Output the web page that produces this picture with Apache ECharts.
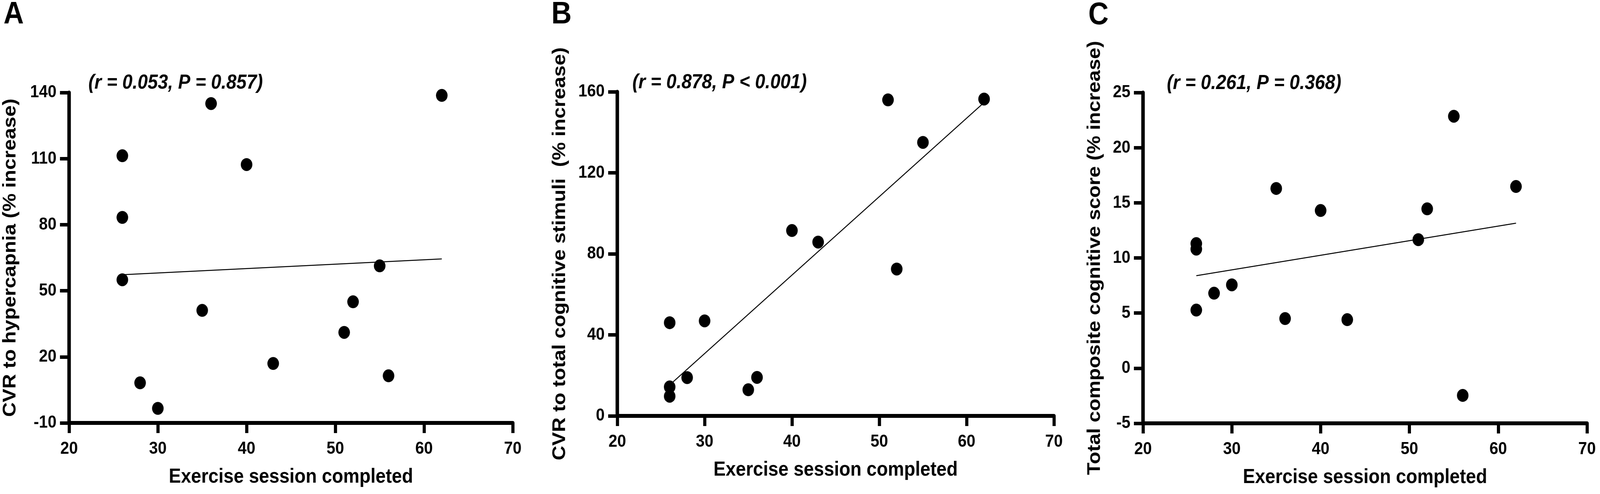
<!DOCTYPE html>
<html>
<head>
<meta charset="utf-8">
<script src="https://cdn.jsdelivr.net/npm/echarts@6/dist/echarts.min.js"></script>
<style>
  html, body { margin: 0; padding: 0; background: #fff; overflow: hidden; }
  #chart { width: 4562px; height: 1265px; transform-origin: 0 0; }
</style>
</head>
<body>
<div id="chart"></div>
<script>
/** 数据：运动次数 vs 三个指标 */
const xTicks = [20, 30, 40, 50, 60, 70]

const sessA = [26, 26, 26, 28, 30, 36, 35, 40, 43, 51, 52, 55, 56, 62]
const cvrHyper = [111.3, 83.3, 55, 8.2, -3.4, 135, 41.1, 107.3, 17, 31.1, 45, 61.3, 11.4, 138.7]
const yTicksA = [-10, 20, 50, 80, 110, 140]

const sessB = [26, 26, 26, 28, 30, 35, 36, 40, 43, 51, 52, 55, 62]
const cvrCog = [46, 14.3, 9.7, 18.9, 46.9, 12.9, 19, 91.5, 85.8, 156, 72.5, 135, 156.4]
const yTicksB = [0, 40, 80, 120, 160]

const sessC = [26, 26, 26, 28, 30, 36, 35, 40, 43, 51, 52, 55, 56, 62]
const cogScore = [11.3, 10.8, 5.27, 6.8, 7.56, 4.5, 16.3, 14.3, 4.4, 11.66, 14.45, 22.85, -2.47, 16.48]
const yTicksC = [-5, 0, 5, 10, 15, 20, 25]

const panelLetters = ["A", "B", "C"]
const statTexts = ["(r = 0.053, P = 0.857)", "(r = 0.878, P < 0.001)", "(r = 0.261, P = 0.368)"]
const xTitle = "Exercise session completed"
const yTitles = [
    "CVR to hypercapnia (% increase)",
    "CVR to total cognitive stimuli  (% increase)",
    "Total composite cognitive score (% increase)"
]

const FONT = "'Liberation Sans', Arial, sans-serif"
const PAGE_W = 4562, PAGE_H = 1265

/** 最小二乘回归线，从最小 x 画到最大 x */
function fitLine(xs, ys) {
    let n = xs.length
    let mx = xs.reduce((a, b) => a + b, 0) / n
    let my = ys.reduce((a, b) => a + b, 0) / n
    let sxy = 0, sxx = 0
    for (let i = 0; i < n; i++) {
        sxy += (xs[i] - mx) * (ys[i] - my)
        sxx += (xs[i] - mx) * (xs[i] - mx)
    }
    let k = sxy / sxx
    let x0 = Math.min(...xs), x1 = Math.max(...xs)
    return [[x0, my + k * (x0 - mx)], [x1, my + k * (x1 - mx)]]
}

function getXAxis(idx) {
    return {
        gridIndex: idx,
        type: "value",
        min: xTicks[0],
        max: xTicks[xTicks.length - 1],
        interval: xTicks[1] - xTicks[0],
        name: xTitle,
        nameLocation: "middle",
        nameGap: 113,
        nameTextStyle: { fontFamily: FONT, fontWeight: "bold", fontSize: 52, color: "#000" },
        axisLine: { onZero: false, lineStyle: { color: "#000", width: 10 } },
        axisTick: { length: 26, lineStyle: { color: "#000", width: 9 } },
        axisLabel: { fontFamily: FONT, fontWeight: "bold", fontSize: 45, color: "#000", margin: 44 },
        splitLine: { show: false }
    }
}

function getYAxis(idx, ticks, gap) {
    return {
        gridIndex: idx,
        type: "value",
        min: ticks[0],
        max: ticks[ticks.length - 1],
        interval: ticks[1] - ticks[0],
        name: yTitles[idx],
        nameLocation: "middle",
        nameGap: gap,
        nameTextStyle: { fontFamily: FONT, fontWeight: "bold", fontSize: 52, color: "#000" },
        axisLine: { show: true, onZero: false, lineStyle: { color: "#000", width: 10 } },
        axisTick: { show: true, length: 26, lineStyle: { color: "#000", width: 9 } },
        axisLabel: { fontFamily: FONT, fontWeight: "bold", fontSize: 45, color: "#000", margin: 36 },
        splitLine: { show: false }
    }
}

function scatterSeries(idx, xs, ys) {
    return {
        type: "scatter",
        xAxisIndex: idx,
        yAxisIndex: idx,
        data: xs.map((x, i) => [x, ys[i]]),
        symbol: "circle",
        symbolSize: 33,
        itemStyle: { color: "#000", opacity: 1 },
        clip: false,
        z: 3
    }
}

function lineSeries(idx, xs, ys) {
    return {
        type: "line",
        xAxisIndex: idx,
        yAxisIndex: idx,
        data: fitLine(xs, ys),
        showSymbol: false,
        symbol: "none",
        lineStyle: { color: "#000", width: 2.5 },
        z: 2
    }
}

// 浏览器窗口可能比 4562 窄，整体按窗口缩放
let el = document.getElementById("chart")
let sx = window.innerWidth / PAGE_W
let sy = window.innerHeight / PAGE_H
if (Math.abs(sx - 1) > 0.001 || Math.abs(sy - 1) > 0.001) {
    el.style.transform = "scale(" + sx + "," + sy + ")"
}

let chart = echarts.init(el)

let letterPos = [[10, 38], [1572, 38], [3103, 40]]
let statPos = [[252, 215], [1803, 214], [3327, 216]]

let graphics = []
for (let i = 0; i < 3; i++) {
    graphics.push({
        type: "text",
        left: letterPos[i][0],
        top: letterPos[i][1] - 40,
        style: { text: panelLetters[i], font: "bold 80px " + FONT, fill: "#000" }
    })
    graphics.push({
        type: "text",
        left: statPos[i][0],
        top: statPos[i][1] - 28,
        style: { text: statTexts[i], font: "italic bold 52px " + FONT, fill: "#000" }
    })
}

let option = {
    backgroundColor: "#fff",
    animation: false,
    grid: [
        { left: 197, top: 237, width: 1265, height: 846 },
        { left: 1760, top: 235, width: 1245, height: 830 },
        { left: 3259, top: 237, width: 1266, height: 847 }
    ],
    xAxis: [getXAxis(0), getXAxis(1), getXAxis(2)],
    yAxis: [getYAxis(0, yTicksA, 141), getYAxis(1, yTicksB, 137), getYAxis(2, yTicksC, 111)],
    series: [
        scatterSeries(0, sessA, cvrHyper), lineSeries(0, sessA, cvrHyper),
        scatterSeries(1, sessB, cvrCog), lineSeries(1, sessB, cvrCog),
        scatterSeries(2, sessC, cogScore), lineSeries(2, sessC, cogScore)
    ],
    graphic: graphics
}

chart.setOption(option)
</script>
</body>
</html>
